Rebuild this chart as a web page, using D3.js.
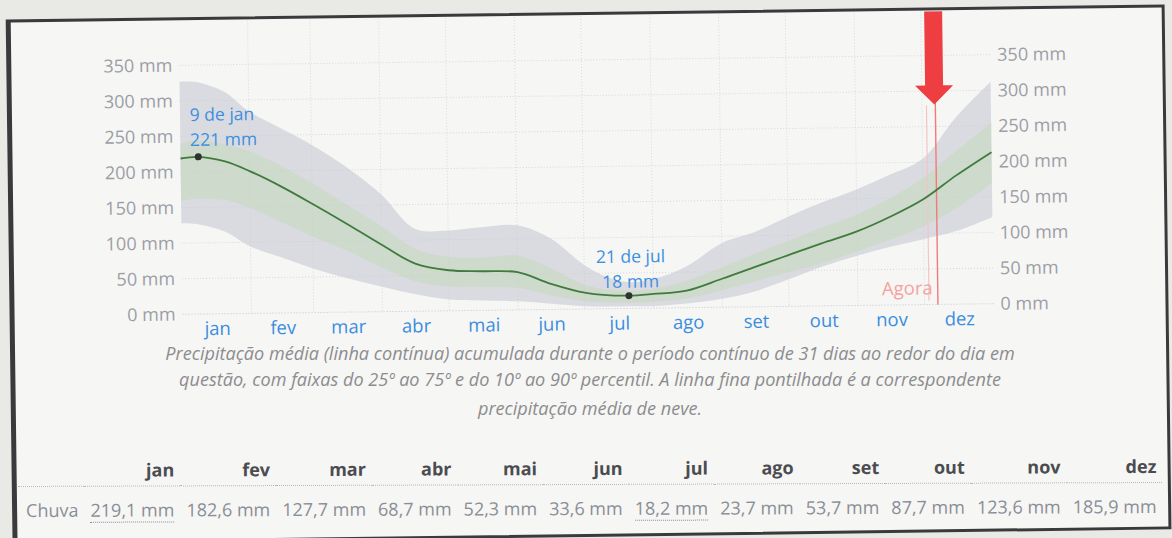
<!DOCTYPE html>
<html>
<head>
<meta charset="utf-8">
<script src="https://cdn.jsdelivr.net/npm/d3@7"></script>
<style>
  body { margin: 0; width: 1172px; height: 538px; overflow: hidden; background: #e9e9e6; font-family: "Open Sans", "Noto Sans", sans-serif; }
  #page { position: absolute; left: 0; top: 0; width: 1172px; height: 538px; transform: rotate(-0.75deg); transform-origin: 586px 269px; }
  #frame { position: absolute; left: 9px; top: 12px; width: 1151px; height: 519px; border: 3px solid #3a3a3c; border-left-width: 5px; background: #f6f6f4; }
  #chart { position: absolute; left: 0; top: 0; }
  #cap { position: absolute; left: 0; top: 0; }
  #tblwrap { position: absolute; left: 18px; top: 454px; width: 1140px; transform: rotate(-0.2deg); transform-origin: 570px 30px; }
  #tbl { width: 1140px; border-collapse: collapse; font-size: 18px; }
  #tbl th { font-weight: 700; color: #4b4c50; text-align: right; padding: 2px 6px 4px 6px; border-bottom: 1px dotted #b8b8bc; }
  #tbl td { color: #8a8e97; text-align: right; padding: 11px 6px 4px 6px; white-space: nowrap; }
  #tbl td.lbl { text-align: left; padding-left: 8px; }
  #tbl td.hl span { border-bottom: 1px dotted #8a8e97; }
</style>
</head>
<body>
<div id="page">
  <div id="frame"></div>
  <svg id="chart" width="1172" height="538"></svg>
</div>
<svg id="cap" width="1172" height="538"></svg>
<div id="tblwrap"><table id="tbl"></table></div>
<script>
// month names and day-of-year where each month starts
const months = ["jan", "fev", "mar", "abr", "mai", "jun", "jul", "ago", "set", "out", "nov", "dez"];
const monthStart = [0, 31, 59, 90, 120, 151, 181, 212, 243, 273, 304, 334, 365];

// 31-day running rainfall (day of year -> mm)
const days   = [0, 8, 20, 31, 45, 59, 74, 90, 105, 120, 135, 151, 166, 181, 191, 201, 212, 227, 243, 258, 273, 288, 304, 319, 334, 349, 365];
const meanMm = [219, 221, 214, 200, 178, 153, 125, 94, 67, 57, 55, 53, 36, 23, 19, 18, 20, 24, 40, 56, 72, 88, 104, 124, 148, 181, 213];
const p10    = [128, 126, 115, 94, 78, 62, 48, 35, 24, 16, 14, 12, 8, 4, 3, 3, 3, 6, 12, 22, 38, 55, 70, 82, 92, 103, 122];
const p25    = [160, 162, 160, 148, 128, 107, 87, 62, 42, 34, 33, 31, 20, 11, 9, 8, 9, 13, 24, 36, 48, 60, 76, 92, 110, 135, 170];
const p75    = [240, 244, 238, 228, 207, 182, 152, 120, 88, 76, 74, 76, 58, 34, 27, 25, 27, 38, 56, 75, 92, 110, 128, 150, 178, 215, 254];
const p90    = [327, 326, 312, 284, 260, 236, 205, 165, 116, 113, 117, 119, 100, 62, 45, 37, 41, 58, 90, 105, 126, 145, 163, 183, 205, 262, 312];

const yTicks = [0, 50, 100, 150, 200, 250, 300, 350];

// highlighted extremes
const highDay = 8,   highVal = 221, highLabel = "9 de jan";
const lowDay  = 201, lowVal  = 18,  lowLabel  = "21 de jul";
const nowDay = 340;

// monthly totals for the table
const chuvaMonthly = [219.1, 182.6, 127.7, 68.7, 52.3, 33.6, 18.2, 23.7, 53.7, 87.7, 123.6, 185.9];

const caption = [
  "Precipitação média (linha contínua) acumulada durante o período contínuo de 31 dias ao redor do dia em",
  "questão, com faixas do 25º ao 75º e do 10º ao 90º percentil. A linha fina pontilhada é a correspondente",
  "precipitação média de neve."
];

const svg = d3.select("#chart");
const x = d3.scaleLinear().domain([0, 365]).range([182, 993]);
const y = d3.scaleLinear().domain([0, 350]).range([309, 60]);

const pts = days.map((d, i) => ({ d, m: meanMm[i], a: p10[i], b: p25[i], c: p75[i], e: p90[i] }));

// grid
svg.append("g").selectAll("line").data(monthStart.slice(1, 12)).join("line")
  .attr("x1", d => x(d)).attr("x2", d => x(d))
  .attr("y1", 16).attr("y2", 309)
  .attr("stroke", "#d8d9de").attr("stroke-dasharray", "1,2");
svg.append("g").selectAll("line").data(yTicks).join("line")
  .attr("x1", x(0)).attr("x2", x(365))
  .attr("y1", d => y(d)).attr("y2", d => y(d))
  .attr("stroke", d => d === 0 ? "#c4c5cb" : "#d6d7dc").attr("stroke-dasharray", "1,2");

// bands
const band = (lo, hi) => d3.area().curve(d3.curveCatmullRom)
  .x(p => x(p.d)).y0(p => y(p[lo])).y1(p => y(p[hi]));
svg.append("path").datum(pts).attr("d", band("a", "e"))
  .attr("fill", "#c8cad4").attr("fill-opacity", 0.6);
svg.append("path").datum(pts).attr("d", band("b", "c"))
  .attr("fill", "#bedab0").attr("fill-opacity", 0.42);

// now marker
svg.append("line").attr("x1", x(nowDay - 4)).attr("x2", x(nowDay - 4))
  .attr("y1", 110).attr("y2", 305).attr("stroke", "#f4c4c4").attr("stroke-width", 1.2);
svg.append("line").attr("x1", x(nowDay)).attr("x2", x(nowDay))
  .attr("y1", y(350)).attr("y2", y(0)).attr("stroke", "#f27a7a").attr("stroke-width", 1.4);
svg.append("text").attr("x", x(nowDay) - 5).attr("y", 299)
  .attr("text-anchor", "end").attr("font-size", 18.5).attr("fill", "#f4a3a0").text("Agora");

// mean line
svg.append("path").datum(pts)
  .attr("d", d3.line().curve(d3.curveCatmullRom).x(p => x(p.d)).y(p => y(p.m)))
  .attr("fill", "none").attr("stroke", "#3f7b3c").attr("stroke-width", 1.8);

// extremes
[[highDay, highVal], [lowDay, lowVal]].forEach(([d, v]) => {
  svg.append("circle").attr("cx", x(d)).attr("cy", y(v)).attr("r", 3.5).attr("fill", "#2f3330");
});
const ann = svg.append("g").attr("font-size", 17.5).attr("fill", "#3d8fdf");
ann.append("text").attr("x", x(highDay) - 8).attr("y", y(highVal) - 36).text(highLabel);
ann.append("text").attr("x", x(highDay) - 8).attr("y", y(highVal) - 11).text(highVal + " mm");
ann.append("text").attr("x", x(lowDay) + 2).attr("y", y(lowVal) - 33).attr("text-anchor", "middle").text(lowLabel);
ann.append("text").attr("x", x(lowDay) + 2).attr("y", y(lowVal) - 8).attr("text-anchor", "middle").text(lowVal + " mm");

// axes
const fmt = d => d + " mm";
const left = svg.append("g").attr("transform", "translate(178,0)")
  .call(d3.axisLeft(y).tickValues(yTicks).tickFormat(fmt).tickSize(0).tickPadding(3));
const right = svg.append("g").attr("transform", "translate(996,0)")
  .call(d3.axisRight(y).tickValues(yTicks).tickFormat(fmt).tickSize(0).tickPadding(4));
[left, right].forEach(g => {
  g.select(".domain").remove();
  g.selectAll("text").attr("font-size", 18).attr("fill", "#9c9ea6").attr("font-family", "Open Sans");
});
const mid = months.map((m, i) => (monthStart[i] + monthStart[i + 1]) / 2);
const bottom = svg.append("g").attr("transform", "translate(0,309)")
  .call(d3.axisBottom(x).tickValues(mid).tickFormat((d, i) => months[i]).tickSize(0).tickPadding(8));
bottom.select(".domain").remove();
bottom.selectAll("text").attr("font-size", 18.5).attr("fill", "#3b8de0").attr("font-family", "Open Sans");

// red arrow drawn over the chart
const ax = x(nowDay) - 1;
svg.append("path")
  .attr("d", `M${ax - 9},16 L${ax + 9},16 L${ax + 9},90 L${ax + 19},90 L${ax},109 L${ax - 19},90 L${ax - 9},90 Z`)
  .attr("fill", "#ee3e42");

// caption (kept level, it barely tilts in the photo); size fitted to the first line's width
const capY = [360, 386, 415];
const capTexts = d3.select("#cap").append("g").attr("font-style", "italic").attr("fill", "#8c8c8f").attr("text-anchor", "middle")
  .selectAll("text").data(caption).join("text")
  .attr("x", 590).attr("y", (d, i) => capY[i]).attr("font-size", 16).text(d => d);
const k = 850 / capTexts.node().getComputedTextLength();
capTexts.attr("font-size", 16 * k);

// table
const loc = d3.formatLocale({ decimal: ",", thousands: ".", grouping: [3], currency: ["R$", ""] });
const f1 = loc.format(".1f");
const tbl = d3.select("#tbl");
const hr = tbl.append("tr");
hr.append("th");
hr.selectAll("th.m").data(months).join("th").attr("class", "m").text(d => d);
const vr = tbl.append("tr");
vr.append("td").attr("class", "lbl").text("Chuva");
const maxV = d3.max(chuvaMonthly), minV = d3.min(chuvaMonthly);
vr.selectAll("td.v").data(chuvaMonthly).join("td")
  .attr("class", d => "v" + (d === maxV || d === minV ? " hl" : ""))
  .append("span").text(d => f1(d) + " mm");
</script>
</body>
</html>
